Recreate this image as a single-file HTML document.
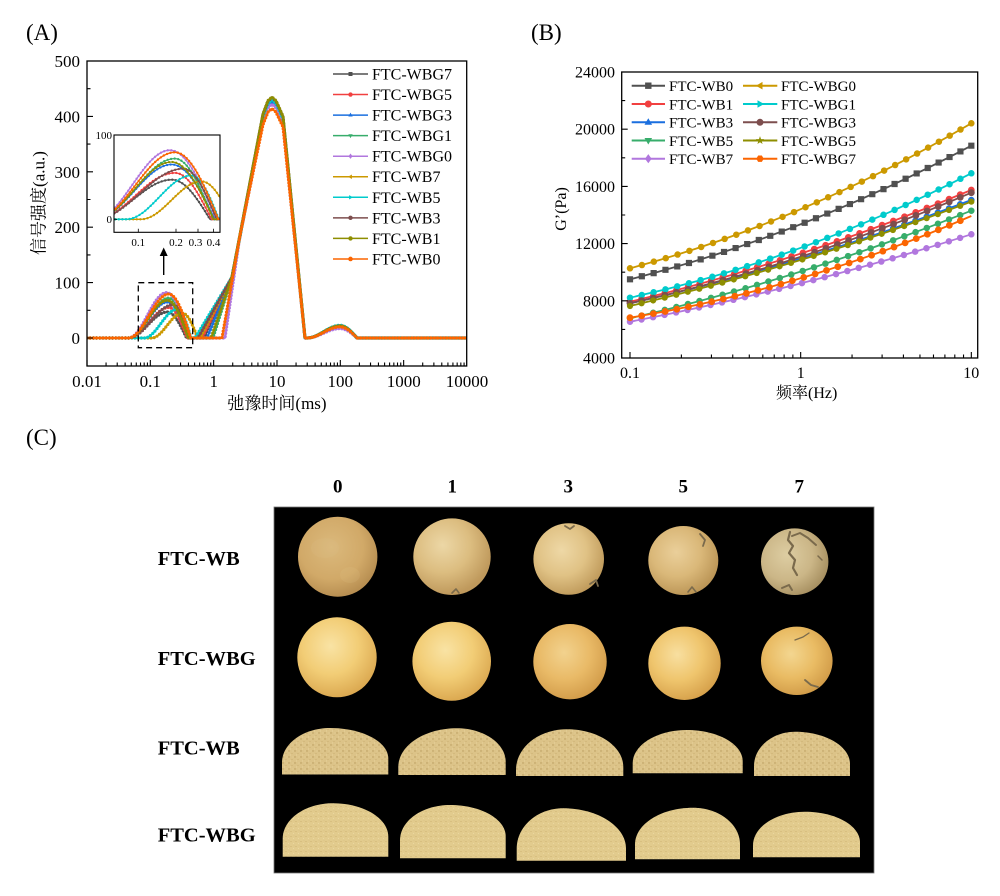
<!DOCTYPE html>
<html><head><meta charset="utf-8">
<style>
html,body{margin:0;padding:0;background:#fff;}
svg{display:block;}
text{font-family:"Liberation Serif","Noto Serif CJK SC",serif;fill:#000;}
.b{font-weight:bold;}
</style></head><body>
<svg xmlns="http://www.w3.org/2000/svg" width="1000" height="896" viewBox="0 0 1000 896">
<defs>
<clipPath id="cA"><rect x="87" y="61" width="379.7" height="305"/></clipPath>
<clipPath id="cI"><rect x="114" y="135" width="106" height="97.3"/></clipPath>
<clipPath id="cB"><rect x="621.7" y="72" width="356" height="286"/></clipPath>
<radialGradient id="r1a" cx="0.42" cy="0.38" r="0.62"><stop offset="0" stop-color="#dbb97c"/><stop offset="0.65" stop-color="#d1a968"/><stop offset="1" stop-color="#b88f52"/></radialGradient>
<radialGradient id="r1b" cx="0.38" cy="0.35" r="0.65"><stop offset="0" stop-color="#ecd7a6"/><stop offset="0.55" stop-color="#dcbd80"/><stop offset="1" stop-color="#bf995c"/></radialGradient>
<radialGradient id="r1c" cx="0.4" cy="0.38" r="0.64"><stop offset="0" stop-color="#eed8a6"/><stop offset="0.55" stop-color="#e0c285"/><stop offset="1" stop-color="#c09b5c"/></radialGradient>
<radialGradient id="r1d" cx="0.4" cy="0.38" r="0.64"><stop offset="0" stop-color="#eacf9a"/><stop offset="0.55" stop-color="#dab879"/><stop offset="1" stop-color="#bb9556"/></radialGradient>
<radialGradient id="r1g" cx="0.38" cy="0.4" r="0.64"><stop offset="0" stop-color="#ddcda2"/><stop offset="0.6" stop-color="#cbb687"/><stop offset="1" stop-color="#a89162"/></radialGradient>
<radialGradient id="r2" cx="0.42" cy="0.36" r="0.64"><stop offset="0" stop-color="#f9e3a4"/><stop offset="0.55" stop-color="#f2cd76"/><stop offset="1" stop-color="#dcaa52"/></radialGradient>
<radialGradient id="r2o" cx="0.42" cy="0.38" r="0.64"><stop offset="0" stop-color="#f2d28e"/><stop offset="0.55" stop-color="#e9ba67"/><stop offset="1" stop-color="#d29c4a"/></radialGradient>
<radialGradient id="r2b" cx="0.4" cy="0.38" r="0.64"><stop offset="0" stop-color="#f8dfa0"/><stop offset="0.55" stop-color="#efc56d"/><stop offset="1" stop-color="#d7a24c"/></radialGradient>
<radialGradient id="r2c" cx="0.42" cy="0.4" r="0.64"><stop offset="0" stop-color="#f3d690"/><stop offset="0.55" stop-color="#e9bb63"/><stop offset="1" stop-color="#d09a47"/></radialGradient>
<pattern id="p3" width="6" height="6" patternUnits="userSpaceOnUse">
<rect width="6" height="6" fill="#dcc388"/>
<circle cx="1" cy="1" r="0.7" fill="#b89a5c"/><circle cx="4" cy="3.5" r="0.5" fill="#c4a86a"/>
<circle cx="2.5" cy="5" r="0.45" fill="#efdca8"/><circle cx="5" cy="1" r="0.4" fill="#efdca8"/>
</pattern>
<pattern id="p4" width="5" height="5" patternUnits="userSpaceOnUse">
<rect width="5" height="5" fill="#e2cb8d"/>
<circle cx="1" cy="1.5" r="0.5" fill="#c6ab6c"/><circle cx="3.5" cy="3.5" r="0.45" fill="#f0ddaa"/>
<circle cx="4" cy="0.8" r="0.35" fill="#cdb274"/>
</pattern>

<path id="a1" d="M87,338 H128.4 C142.4,338 153.3,312 167.3,312 C174.2,312 180.2,324.5 186.6,338 H204 L232,277.1 L263,116.5 L268,103.4 L272,99.8 L276,103.4 L283,118.8 L305,338 H307 C319,338 328,326.4 340,326.4 C346.1,326.4 351.4,332 357,338 H467"/>
<path id="a2" d="M87,338 H128.4 C142.9,338 154.3,307.5 168.8,307.5 C175.5,307.5 181.3,322.2 187.4,338 H202 L232,277.1 L263,117.5 L268,104.4 L272,100.9 L276,104.4 L283,119.9 L305,338 H307 C319,338 328,325.8 340,325.8 C346.1,325.8 351.4,331.7 357,338 H467"/>
<path id="a3" d="M87,338 H128.4 C142.4,338 153.3,302 167.3,302 C175.1,302 181.9,319.3 189.1,338 H207 L232,277.1 L263,119 L268,106.1 L272,102.6 L276,106.1 L283,121.4 L305,338 H307 C319,338 328,325.8 340,325.8 C346.1,325.8 351.4,331.7 357,338 H467"/>
<path id="a4" d="M87,338 H128.4 C142.9,338 154.3,298.1 168.8,298.1 C175.8,298.1 181.8,317.3 188.3,338 H213 L232,277.1 L263,115.4 L268,102.3 L272,98.7 L276,102.3 L283,117.8 L305,338 H307 C319,338 328,325.8 340,325.8 C346.1,325.8 351.4,331.7 357,338 H467"/>
<path id="a5" d="M87,338 H128.4 C142,338 152.7,292.6 166.4,292.6 C174.8,292.6 182.1,314.4 189.8,338 H225 L240,235.5 L263,120.6 L268,107.7 L272,104.2 L276,107.7 L283,122.9 L305,338 H307 C319,338 328,328.6 340,328.6 C346.1,328.6 351.4,333.1 357,338 H467"/>
<path id="a6" d="M87,338 H151.7 C162.7,338 171.3,313.1 182.3,313.1 C187.9,313.1 192.6,325 197.7,338 H200 L232,277.1 L263,114.9 L268,101.7 L272,98.1 L276,101.7 L283,117.3 L305,338 H307 C319,338 328,325.8 340,325.8 C346.1,325.8 351.4,331.7 357,338 H467"/>
<path id="a7" d="M87,338 H144.2 C156.1,338 165.4,309.2 177.3,309.2 C182.3,309.2 186.6,323 191.1,338 H195 L232,277.1 L263,116.5 L268,103.4 L272,99.8 L276,103.4 L283,118.8 L305,338 H307 C319,338 328,325.3 340,325.3 C346.1,325.3 351.4,331.4 357,338 H467"/>
<path id="a8" d="M87,338 H128.4 C144.5,338 157,304.8 173.1,304.8 C179.2,304.8 184.4,320.7 190,338 H198 L232,277.1 L263,114.4 L268,101.2 L272,97.6 L276,101.2 L283,116.8 L305,338 H307 C319,338 328,325.8 340,325.8 C346.1,325.8 351.4,331.7 357,338 H467"/>
<path id="a9" d="M87,338 H128.4 C142.4,338 153.3,300.3 167.3,300.3 C174.9,300.3 181.5,318.4 188.5,338 H211 L232,277.1 L263,113.9 L268,100.6 L272,97 L276,100.6 L283,116.3 L305,338 H307 C319,338 328,325.8 340,325.8 C346.1,325.8 351.4,331.7 357,338 H467"/>
<path id="a10" d="M87,338 H128.4 C142.9,338 154.3,294 168.8,294 C176.8,294 183.6,315.1 190.8,338 H222 L240,235.5 L263,124.7 L268,112.1 L272,108.6 L276,112.1 L283,127 L305,338 H307 C319,338 328,326.9 340,326.9 C346.1,326.9 351.4,332.2 357,338 H467"/>

<path id="i1" d="M90,219.3 H94.9 C122.6,219.3 144.1,179.7 171.8,179.7 C185.5,179.7 197.4,198.7 210,219.3 H232"/>
<path id="i2" d="M90,219.3 H94.9 C123.7,219.3 146.1,172.9 174.9,172.9 C188.1,172.9 199.5,195.2 211.6,219.3 H232"/>
<path id="i3" d="M90,219.3 H94.9 C122.6,219.3 144.1,164.5 171.8,164.5 C187.3,164.5 200.7,190.8 215,219.3 H232"/>
<path id="i4" d="M90,219.3 H94.9 C123.7,219.3 146.1,158.6 174.9,158.6 C188.7,158.6 200.6,187.7 213.3,219.3 H232"/>
<path id="i5" d="M90,219.3 H94.9 C121.9,219.3 142.9,150.2 170,150.2 C186.7,150.2 201,183.4 216.3,219.3 H232"/>
<path id="i6" d="M90,219.3 H141 C162.8,219.3 179.7,181.4 201.5,181.4 C212.5,181.4 221.9,199.6 232,219.3"/>
<path id="i7" d="M90,219.3 H126.2 C149.8,219.3 168.1,175.5 191.7,175.5 C201.5,175.5 209.9,196.5 218.9,219.3 H232"/>
<path id="i8" d="M90,219.3 H94.9 C126.7,219.3 151.5,168.7 183.4,168.7 C195.4,168.7 205.7,193 216.7,219.3 H232"/>
<path id="i9" d="M90,219.3 H94.9 C122.6,219.3 144.1,162 171.8,162 C186.8,162 199.8,189.5 213.7,219.3 H232"/>
<path id="i10" d="M90,219.3 H94.9 C123.7,219.3 146.1,152.3 174.9,152.3 C190.6,152.3 204,184.5 218.4,219.3 H232"/>

<path id="b1" pathLength="30" d="M630,279.3 Q800.67,236.1 971.33,145.7"/>
<path id="b2" pathLength="30" d="M630,301.7 Q800.67,261.35 971.33,190"/>
<path id="b3" pathLength="30" d="M630,303.3 Q800.67,265.55 971.33,200"/>
<path id="b4" pathLength="30" d="M630,318.3 Q800.67,278.7 971.33,210.7"/>
<path id="b5" pathLength="30" d="M630,321.7 Q800.67,288.8 971.33,234.3"/>
<path id="b6" pathLength="30" d="M630,268.3 Q800.67,222.8 971.33,123.3"/>
<path id="b7" pathLength="30" d="M630,297.7 Q800.67,260.3 971.33,173.3"/>
<path id="b8" pathLength="30" d="M630,303.3 Q800.67,265.6 971.33,192.7"/>
<path id="b9" pathLength="30" d="M630,306 Q800.67,266.15 971.33,201.7"/>
<path id="b10" pathLength="30" d="M630,317.7 Q800.67,289.75 971.33,216"/>
</defs>
<rect width="1000" height="896" fill="#fff"/>

<!-- ===== Panel A ===== -->
<text x="26" y="40" font-size="23">(A)</text>
<g clip-path="url(#cA)" fill="none">
<use href="#a1" stroke="#505050" stroke-width="1.6"/><use href="#a1" stroke="#505050" stroke-width="3.2" stroke-linecap="round" stroke-dasharray="0 3.2"/>
<use href="#a2" stroke="#F14040" stroke-width="1.6"/><use href="#a2" stroke="#F14040" stroke-width="3.2" stroke-linecap="round" stroke-dasharray="0 3.2"/>
<use href="#a3" stroke="#1A6FDF" stroke-width="1.6"/><use href="#a3" stroke="#1A6FDF" stroke-width="3.2" stroke-linecap="round" stroke-dasharray="0 3.2"/>
<use href="#a4" stroke="#37AD6B" stroke-width="1.6"/><use href="#a4" stroke="#37AD6B" stroke-width="3.2" stroke-linecap="round" stroke-dasharray="0 3.2"/>
<use href="#a5" stroke="#B177DE" stroke-width="1.6"/><use href="#a5" stroke="#B177DE" stroke-width="3.2" stroke-linecap="round" stroke-dasharray="0 3.2"/>
<use href="#a6" stroke="#CC9900" stroke-width="1.6"/><use href="#a6" stroke="#CC9900" stroke-width="3.2" stroke-linecap="round" stroke-dasharray="0 3.2"/>
<use href="#a7" stroke="#00CBCC" stroke-width="1.6"/><use href="#a7" stroke="#00CBCC" stroke-width="3.2" stroke-linecap="round" stroke-dasharray="0 3.2"/>
<use href="#a8" stroke="#7D4E4E" stroke-width="1.6"/><use href="#a8" stroke="#7D4E4E" stroke-width="3.2" stroke-linecap="round" stroke-dasharray="0 3.2"/>
<use href="#a9" stroke="#8E8E00" stroke-width="1.6"/><use href="#a9" stroke="#8E8E00" stroke-width="3.2" stroke-linecap="round" stroke-dasharray="0 3.2"/>
<use href="#a10" stroke="#FB6501" stroke-width="1.6"/><use href="#a10" stroke="#FB6501" stroke-width="3.2" stroke-linecap="round" stroke-dasharray="0 3.2"/>
</g>
<rect x="114" y="135" width="106" height="97.3" fill="#fff"/>
<g clip-path="url(#cI)" fill="none">
<use href="#i1" stroke="#505050" stroke-width="1.3"/><use href="#i1" stroke="#505050" stroke-width="2.4" stroke-linecap="round" stroke-dasharray="0 3.6"/>
<use href="#i2" stroke="#F14040" stroke-width="1.3"/><use href="#i2" stroke="#F14040" stroke-width="2.4" stroke-linecap="round" stroke-dasharray="0 3.6"/>
<use href="#i3" stroke="#1A6FDF" stroke-width="1.3"/><use href="#i3" stroke="#1A6FDF" stroke-width="2.4" stroke-linecap="round" stroke-dasharray="0 3.6"/>
<use href="#i4" stroke="#37AD6B" stroke-width="1.3"/><use href="#i4" stroke="#37AD6B" stroke-width="2.4" stroke-linecap="round" stroke-dasharray="0 3.6"/>
<use href="#i5" stroke="#B177DE" stroke-width="1.3"/><use href="#i5" stroke="#B177DE" stroke-width="2.4" stroke-linecap="round" stroke-dasharray="0 3.6"/>
<use href="#i6" stroke="#CC9900" stroke-width="1.3"/><use href="#i6" stroke="#CC9900" stroke-width="2.4" stroke-linecap="round" stroke-dasharray="0 3.6"/>
<use href="#i7" stroke="#00CBCC" stroke-width="1.3"/><use href="#i7" stroke="#00CBCC" stroke-width="2.4" stroke-linecap="round" stroke-dasharray="0 3.6"/>
<use href="#i8" stroke="#7D4E4E" stroke-width="1.3"/><use href="#i8" stroke="#7D4E4E" stroke-width="2.4" stroke-linecap="round" stroke-dasharray="0 3.6"/>
<use href="#i9" stroke="#8E8E00" stroke-width="1.3"/><use href="#i9" stroke="#8E8E00" stroke-width="2.4" stroke-linecap="round" stroke-dasharray="0 3.6"/>
<use href="#i10" stroke="#FB6501" stroke-width="1.3"/><use href="#i10" stroke="#FB6501" stroke-width="2.4" stroke-linecap="round" stroke-dasharray="0 3.6"/>
</g>
<rect x="114" y="135" width="106" height="97.3" fill="none" stroke="#000" stroke-width="1.1"/>
<path d="M138.3,232.3 v-3.5 M176,232.3 v-3.5 M198,232.3 v-3.5 M213.6,232.3 v-3.5 M114,219.3 h3 M114,135 h3" stroke="#000" stroke-width="0.8" fill="none"/>
<text x="112" y="139" font-size="11" text-anchor="end">100</text>
<text x="112" y="223" font-size="11" text-anchor="end">0</text>
<text x="138.3" y="246" font-size="11" text-anchor="middle">0.1</text>
<text x="176" y="246" font-size="11" text-anchor="middle">0.2</text>
<text x="195.5" y="246" font-size="11" text-anchor="middle">0.3</text>
<text x="213.5" y="246" font-size="11" text-anchor="middle">0.4</text>
<rect x="138.3" y="282.7" width="54.4" height="65" fill="none" stroke="#000" stroke-width="1.3" stroke-dasharray="6,4"/>
<line x1="163.7" y1="275" x2="163.7" y2="254" stroke="#000" stroke-width="1.4"/>
<polygon points="163.7,247.5 159.7,256 167.7,256" fill="#000"/>

<g stroke-width="1.5">
<line x1="333" x2="368" y1="74" y2="74" stroke="#505050"/>
<line x1="333" x2="368" y1="94.55" y2="94.55" stroke="#F14040"/>
<line x1="333" x2="368" y1="115.1" y2="115.1" stroke="#1A6FDF"/>
<line x1="333" x2="368" y1="135.65" y2="135.65" stroke="#37AD6B"/>
<line x1="333" x2="368" y1="156.2" y2="156.2" stroke="#B177DE"/>
<line x1="333" x2="368" y1="176.75" y2="176.75" stroke="#CC9900"/>
<line x1="333" x2="368" y1="197.3" y2="197.3" stroke="#00CBCC"/>
<line x1="333" x2="368" y1="217.85" y2="217.85" stroke="#7D4E4E"/>
<line x1="333" x2="368" y1="238.4" y2="238.4" stroke="#8E8E00"/>
<line x1="333" x2="368" y1="258.95" y2="258.95" stroke="#FB6501"/>
</g>
<rect x="348.5" y="72" width="4" height="4" fill="#505050"/>
<circle cx="350.5" cy="94.55" r="2.2" fill="#F14040"/>
<polygon points="350.5,112.6 352.7,116.5 348.3,116.5" fill="#1A6FDF"/>
<polygon points="350.5,138.1 352.7,134.2 348.3,134.2" fill="#37AD6B"/>
<polygon points="350.5,153.5 352.5,156.2 350.5,158.9 348.5,156.2" fill="#B177DE"/>
<polygon points="348,176.75 351.9,174.55 351.9,178.95" fill="#CC9900"/>
<polygon points="353,197.3 349.1,195.1 349.1,199.5" fill="#00CBCC"/>
<circle cx="350.5" cy="217.85" r="2.2" fill="#7D4E4E"/>
<circle cx="350.5" cy="238.4" r="2.2" fill="#8E8E00"/>
<circle cx="350.5" cy="258.95" r="2.3" fill="#FB6501"/>
<text x="372" y="79.5" font-size="16">FTC-WBG7</text>
<text x="372" y="100" font-size="16">FTC-WBG5</text>
<text x="372" y="120.6" font-size="16">FTC-WBG3</text>
<text x="372" y="141.1" font-size="16">FTC-WBG1</text>
<text x="372" y="161.7" font-size="16">FTC-WBG0</text>
<text x="372" y="182.2" font-size="16">FTC-WB7</text>
<text x="372" y="202.8" font-size="16">FTC-WB5</text>
<text x="372" y="223.3" font-size="16">FTC-WB3</text>
<text x="372" y="243.9" font-size="16">FTC-WB1</text>
<text x="372" y="264.4" font-size="16">FTC-WB0</text>
<rect x="87" y="61" width="379.7" height="305" fill="none" stroke="#000" stroke-width="1.3"/>
<path fill="none" stroke="#000" stroke-width="1.1" d="
M87,366v-6 M150.33,366v-6 M213.66,366v-6 M277,366v-6 M340.32,366v-6 M403.65,366v-6
M106.06,366v-3.5 M117.22,366v-3.5 M125.13,366v-3.5 M131.27,366v-3.5 M136.28,366v-3.5 M140.52,366v-3.5 M144.19,366v-3.5 M147.43,366v-3.5
M169.39,366v-3.5 M180.55,366v-3.5 M188.46,366v-3.5 M194.6,366v-3.5 M199.61,366v-3.5 M203.85,366v-3.5 M207.52,366v-3.5 M210.76,366v-3.5
M232.72,366v-3.5 M243.88,366v-3.5 M251.79,366v-3.5 M257.93,366v-3.5 M262.94,366v-3.5 M267.18,366v-3.5 M270.85,366v-3.5 M274.09,366v-3.5
M296.06,366v-3.5 M307.22,366v-3.5 M315.13,366v-3.5 M321.27,366v-3.5 M326.28,366v-3.5 M330.52,366v-3.5 M334.19,366v-3.5 M337.43,366v-3.5
M359.38,366v-3.5 M370.54,366v-3.5 M378.45,366v-3.5 M384.59,366v-3.5 M389.6,366v-3.5 M393.84,366v-3.5 M397.51,366v-3.5 M400.75,366v-3.5
M422.71,366v-3.5 M433.87,366v-3.5 M441.78,366v-3.5 M447.92,366v-3.5 M452.93,366v-3.5 M457.17,366v-3.5 M460.84,366v-3.5 M464.08,366v-3.5
M87,338h6 M87,282.6h6 M87,227.2h6 M87,171.8h6 M87,116.4h6
M87,310.3h3.5 M87,254.9h3.5 M87,199.5h3.5 M87,144.1h3.5 M87,88.7h3.5"/>
<text x="80" y="67" font-size="17" text-anchor="end">500</text>
<text x="80" y="122.4" font-size="17" text-anchor="end">400</text>
<text x="80" y="177.8" font-size="17" text-anchor="end">300</text>
<text x="80" y="233.2" font-size="17" text-anchor="end">200</text>
<text x="80" y="288.6" font-size="17" text-anchor="end">100</text>
<text x="80" y="344" font-size="17" text-anchor="end">0</text>
<text x="87" y="387" font-size="17" text-anchor="middle">0.01</text>
<text x="150.3" y="387" font-size="17" text-anchor="middle">0.1</text>
<text x="213.7" y="387" font-size="17" text-anchor="middle">1</text>
<text x="277" y="387" font-size="17" text-anchor="middle">10</text>
<text x="340.3" y="387" font-size="17" text-anchor="middle">100</text>
<text x="403.7" y="387" font-size="17" text-anchor="middle">1000</text>
<text x="467" y="387" font-size="17" text-anchor="middle">10000</text>
<text x="277" y="409" font-size="17" text-anchor="middle">弛豫时间(ms)</text>
<text transform="translate(44.5,203) rotate(-90)" font-size="17" text-anchor="middle">信号强度(a.u.)</text>

<!-- ===== Panel B ===== -->
<text x="531" y="40" font-size="23">(B)</text>
<g clip-path="url(#cB)" fill="none">
<use href="#b1" stroke="#505050" stroke-width="1.8"/><use href="#b1" stroke="#505050" stroke-width="6.2" stroke-linecap="square" stroke-dasharray="0 1"/>
<use href="#b2" stroke="#F14040" stroke-width="1.8"/><use href="#b2" stroke="#F14040" stroke-width="6.8" stroke-linecap="round" stroke-dasharray="0 1"/>
<use href="#b3" stroke="#1A6FDF" stroke-width="1.8"/><use href="#b3" stroke="#1A6FDF" stroke-width="6.5" stroke-linecap="round" stroke-dasharray="0 1"/>
<use href="#b4" stroke="#37AD6B" stroke-width="1.8"/><use href="#b4" stroke="#37AD6B" stroke-width="6.5" stroke-linecap="round" stroke-dasharray="0 1"/>
<use href="#b5" stroke="#B177DE" stroke-width="1.8"/><use href="#b5" stroke="#B177DE" stroke-width="6.5" stroke-linecap="round" stroke-dasharray="0 1"/>
<use href="#b6" stroke="#CC9900" stroke-width="1.8"/><use href="#b6" stroke="#CC9900" stroke-width="6.5" stroke-linecap="round" stroke-dasharray="0 1"/>
<use href="#b7" stroke="#00CBCC" stroke-width="1.8"/><use href="#b7" stroke="#00CBCC" stroke-width="6.5" stroke-linecap="round" stroke-dasharray="0 1"/>
<use href="#b8" stroke="#7D4E4E" stroke-width="1.8"/><use href="#b8" stroke="#7D4E4E" stroke-width="6.8" stroke-linecap="round" stroke-dasharray="0 1"/>
<use href="#b9" stroke="#8E8E00" stroke-width="1.8"/><use href="#b9" stroke="#8E8E00" stroke-width="6.2" stroke-linecap="round" stroke-dasharray="0 1"/>
<use href="#b10" stroke="#FB6501" stroke-width="1.8"/><use href="#b10" stroke="#FB6501" stroke-width="6.8" stroke-linecap="round" stroke-dasharray="0 1"/>
</g>
<g stroke-width="2">
<line x1="631.7" x2="665" y1="85.7" y2="85.7" stroke="#505050"/>
<line x1="631.7" x2="665" y1="104" y2="104" stroke="#F14040"/>
<line x1="631.7" x2="665" y1="122.3" y2="122.3" stroke="#1A6FDF"/>
<line x1="631.7" x2="665" y1="140.5" y2="140.5" stroke="#37AD6B"/>
<line x1="631.7" x2="665" y1="158.7" y2="158.7" stroke="#B177DE"/>
<line x1="743" x2="777.3" y1="85.7" y2="85.7" stroke="#CC9900"/>
<line x1="743" x2="777.3" y1="104" y2="104" stroke="#00CBCC"/>
<line x1="743" x2="777.3" y1="122.3" y2="122.3" stroke="#7D4E4E"/>
<line x1="743" x2="777.3" y1="140.5" y2="140.5" stroke="#8E8E00"/>
<line x1="743" x2="777.3" y1="158.7" y2="158.7" stroke="#FB6501"/>
</g>
<rect x="645.1" y="82.5" width="6.4" height="6.4" fill="#505050"/>
<circle cx="648.3" cy="104" r="3.5" fill="#F14040"/>
<polygon points="648.3,118.3 652.1,124.8 644.5,124.8" fill="#1A6FDF"/>
<polygon points="648.3,144.5 652.1,138 644.5,138" fill="#37AD6B"/>
<polygon points="648.3,154.1 651.6,158.7 648.3,163.3 645,158.7" fill="#B177DE"/>
<polygon points="756,85.7 762.5,81.9 762.5,89.5" fill="#CC9900"/>
<polygon points="764,104 757.5,100.2 757.5,107.8" fill="#00CBCC"/>
<circle cx="760" cy="122.3" r="3.5" fill="#7D4E4E"/>
<polygon points="760,136.1 761.03,139.08 764.18,139.14 761.66,141.04 762.59,144.06 760,142.25 757.41,144.06 758.34,141.04 755.82,139.14 758.97,139.08" fill="#8E8E00"/>
<polygon points="763.7,158.7 761.85,161.9 758.15,161.9 756.3,158.7 758.15,155.5 761.85,155.5" fill="#FB6501"/>
<text x="669" y="91" font-size="15">FTC-WB0</text>
<text x="669" y="109.3" font-size="15">FTC-WB1</text>
<text x="669" y="127.6" font-size="15">FTC-WB3</text>
<text x="669" y="145.8" font-size="15">FTC-WB5</text>
<text x="669" y="164" font-size="15">FTC-WB7</text>
<text x="781" y="91" font-size="15">FTC-WBG0</text>
<text x="781" y="109.3" font-size="15">FTC-WBG1</text>
<text x="781" y="127.6" font-size="15">FTC-WBG3</text>
<text x="781" y="145.8" font-size="15">FTC-WBG5</text>
<text x="781" y="164" font-size="15">FTC-WBG7</text>
<rect x="621.7" y="72" width="356" height="286" fill="none" stroke="#000" stroke-width="1.3"/>
<path fill="none" stroke="#000" stroke-width="1.1" d="
M630,358v-6 M800.67,358v-6 M971.33,358v-6
M681.38,358v-3.5 M711.43,358v-3.5 M732.75,358v-3.5 M749.29,358v-3.5 M762.81,358v-3.5 M774.23,358v-3.5 M784.13,358v-3.5 M792.86,358v-3.5
M852.05,358v-3.5 M882.1,358v-3.5 M903.42,358v-3.5 M919.96,358v-3.5 M933.48,358v-3.5 M944.9,358v-3.5 M954.8,358v-3.5 M963.53,358v-3.5
M621.7,358h6 M621.7,300.8h6 M621.7,243.6h6 M621.7,186.4h6 M621.7,129.2h6 M621.7,72h6
M621.7,329.4h3.5 M621.7,272.2h3.5 M621.7,215h3.5 M621.7,157.8h3.5 M621.7,100.6h3.5"/>
<text x="615" y="77.5" font-size="16" text-anchor="end">24000</text>
<text x="615" y="134.7" font-size="16" text-anchor="end">20000</text>
<text x="615" y="191.9" font-size="16" text-anchor="end">16000</text>
<text x="615" y="249.1" font-size="16" text-anchor="end">12000</text>
<text x="615" y="306.3" font-size="16" text-anchor="end">8000</text>
<text x="615" y="363.5" font-size="16" text-anchor="end">4000</text>
<text x="630" y="378" font-size="16" text-anchor="middle">0.1</text>
<text x="800.7" y="378" font-size="16" text-anchor="middle">1</text>
<text x="971.3" y="378" font-size="16" text-anchor="middle">10</text>
<text x="806.7" y="398" font-size="16" text-anchor="middle">频率(Hz)</text>
<text transform="translate(566,209) rotate(-90)" font-size="16" text-anchor="middle">G’(Pa)</text>

<!-- ===== Panel C ===== -->
<text x="26" y="445" font-size="23">(C)</text>
<text class="b" x="337.7" y="492.7" font-size="19" text-anchor="middle">0</text>
<text class="b" x="452.3" y="492.7" font-size="19" text-anchor="middle">1</text>
<text class="b" x="568.3" y="492.7" font-size="19" text-anchor="middle">3</text>
<text class="b" x="683.3" y="492.7" font-size="19" text-anchor="middle">5</text>
<text class="b" x="799.3" y="492.7" font-size="19" text-anchor="middle">7</text>
<text class="b" x="157.7" y="565" font-size="20.5">FTC-WB</text>
<text class="b" x="157.7" y="665" font-size="20.5">FTC-WBG</text>
<text class="b" x="157.7" y="754.3" font-size="20.5">FTC-WB</text>
<text class="b" x="157.7" y="841.7" font-size="20.5">FTC-WBG</text>
<rect x="274" y="507" width="600" height="366" fill="#000" stroke="#777" stroke-width="0.8"/>
<ellipse cx="337.7" cy="556.7" rx="39.7" ry="40" fill="url(#r1a)"/>
<ellipse cx="325" cy="548" rx="14" ry="10" fill="#e0c28a" opacity="0.15"/>
<ellipse cx="350" cy="575" rx="10" ry="8" fill="#e2c690" opacity="0.15"/>
<ellipse cx="452" cy="556.7" rx="38.7" ry="38.3" fill="url(#r1b)"/>
<ellipse cx="568.7" cy="559" rx="35.3" ry="35.8" fill="url(#r1c)"/>
<ellipse cx="683.3" cy="560.5" rx="35" ry="34.5" fill="url(#r1d)"/>
<ellipse cx="794.7" cy="561.7" rx="33.7" ry="33.3" fill="url(#r1g)"/>
<ellipse cx="337" cy="657.3" rx="39.7" ry="40" fill="url(#r2)"/>
<ellipse cx="451.7" cy="661.2" rx="39.3" ry="39.5" fill="url(#r2)"/>
<ellipse cx="570" cy="661.7" rx="36.7" ry="37.7" fill="url(#r2o)"/>
<ellipse cx="684.5" cy="663.3" rx="36.2" ry="36.7" fill="url(#r2b)"/>
<ellipse cx="796.8" cy="660.8" rx="35.8" ry="34.2" fill="url(#r2c)"/>
<g fill="none" stroke="#7a6a4c" stroke-linecap="round" stroke-linejoin="round">
<path d="M790 532 L788 540 L793 546 L789 553 L795 560 L793 568 L797 575" stroke-width="2.2"/>
<path d="M792 536 L800 533 L808 538 L816 545" stroke-width="2"/>
<path d="M818 556 L822 560" stroke-width="1.5"/>
<path d="M782 588 L789 585 L792 590" stroke-width="2"/>
<path d="M565 526 L570 529 L574 526" stroke-width="1.8"/>
<path d="M590 584 L596 580 L598 586" stroke-width="1.8"/>
<path d="M700 534 L705 540 L703 546" stroke-width="1.8"/>
<path d="M688 592 L692 587 L696 592" stroke-width="1.6"/>
<path d="M795 640 L803 637 L809 633" stroke-width="1.3"/>
<path d="M805 680 L811 685 L818 687" stroke-width="1.8"/>
<path d="M452 593 L456 589 L459 593" stroke-width="1.6"/>
</g>
<path fill="url(#p3)" d="M282,774.5 L282,762.5 C282,743.5 303.5,728 330,728 C362.2,728 388.3,741.7 388.3,758.5 L388.3,774.5 Z"/>
<path fill="url(#p3)" d="M398.3,775 L398.3,767 C398.3,745.6 424.5,728.3 456.7,728.3 C483.8,728.3 505.7,743.4 505.7,762 L505.7,775 Z"/>
<path fill="url(#p3)" d="M516,776 L516,770 C516,747.5 538.7,729.3 566.7,729.3 C598,729.3 623.3,746.2 623.3,767 L623.3,776 Z"/>
<path fill="url(#p3)" d="M632.7,773.3 L632.7,763.3 C632.7,744.9 656.9,730 686.7,730 C717.6,730 742.7,744 742.7,761.3 L742.7,773.3 Z"/>
<path fill="url(#p3)" d="M754,776 L754,766 C754,747.1 772.4,731.7 795,731.7 C825.4,731.7 850,746.2 850,764 L850,776 Z"/>
<path fill="url(#p4)" d="M282.7,856.7 L282.7,838.7 C282.7,819.2 305.2,803.3 333,803.3 C363.5,803.3 388.3,818.3 388.3,836.7 L388.3,856.7 Z"/>
<path fill="url(#p4)" d="M400,858.3 L400,840.3 C400,820.8 422.4,805 450,805 C480.8,805 505.7,819 505.7,836.3 L505.7,858.3 Z"/>
<path fill="url(#p4)" d="M516.7,860.7 L516.7,848.7 C516.7,826.4 537.4,808.3 563,808.3 C597.8,808.3 626,826.4 626,848.7 L626,860.7 Z"/>
<path fill="url(#p4)" d="M635,859.3 L635,844.3 C635,824.1 661,807.7 693,807.7 C719,807.7 740,824.1 740,844.3 L740,859.3 Z"/>
<path fill="url(#p4)" d="M753,857.3 L753,845.3 C753,826.7 776.3,811.7 805,811.7 C835.4,811.7 860,825.4 860,842.3 L860,857.3 Z"/>
</svg>
</body></html>
